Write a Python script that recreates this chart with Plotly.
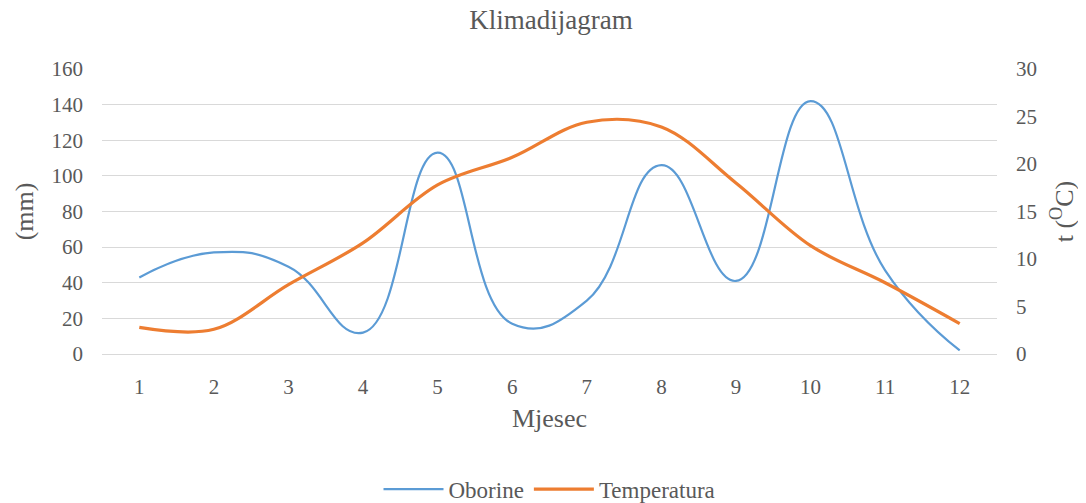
import plotly.graph_objects as go

months = [1, 2, 3, 4, 5, 6, 7, 8, 9, 10, 11, 12]
oborine = [43, 57, 49, 12, 113, 17, 30, 106, 41, 142, 47, 2]
temperatura = [2.8, 2.6, 7.3, 11.7, 17.8, 20.7, 24.4, 23.9, 18.0, 11.4, 7.5, 3.2]

ff = "Liberation Serif"
txt = "#595959"

def F(size):
    return dict(family=ff, size=size, color=txt)

fig = go.Figure()
fig.add_trace(go.Scatter(x=months, y=oborine, name="Oborine", mode="lines",
                         line=dict(color="#5B9BD5", width=2.2, shape="spline", smoothing=1.3)))
fig.add_trace(go.Scatter(x=months, y=temperatura, name="Temperatura", mode="lines", yaxis="y2",
                         line=dict(color="#ED7D31", width=3.2, shape="spline", smoothing=1.0)))

fig.update_layout(
    width=1086, height=503,
    margin=dict(l=94, r=97, t=61, b=157, autoexpand=False),
    paper_bgcolor="white", plot_bgcolor="white",
    font=F(21),
    title=dict(text="Klimadijagram", x=0.5, xanchor="center", y=0.996, yanchor="top",
               font=F(27)),
    xaxis=dict(range=[0.5, 12.5], tickmode="array", tickvals=months,
               ticktext=[str(m) for m in months], showgrid=False, zeroline=False,
               showline=True, linecolor="#D9D9D9", linewidth=1, ticks="",
               tickfont=F(21), ticklabelstandoff=14, automargin=False,
               title=dict(text="Mjesec", font=F(26), standoff=10)),
    yaxis=dict(range=[0, 160], dtick=20, showgrid=True, gridcolor="#D9D9D9", gridwidth=1,
               zeroline=False, showline=False, ticks="", tickfont=F(21), automargin=False,
               ticklabelstandoff=18,
               title=dict(text="(mm)", font=F(26), standoff=10)),
    yaxis2=dict(range=[0, 30], dtick=5, overlaying="y", side="right", showgrid=False,
                zeroline=False, showline=False, ticks="", tickfont=F(21), automargin=False,
                ticklabelstandoff=18,
                title=dict(text="t (<sup>O</sup>C)", font=F(26), standoff=18)),
    legend=dict(orientation="h", x=0.5, xanchor="center", y=-0.474, yanchor="middle",
                font=F(23), itemwidth=60, bgcolor="rgba(0,0,0,0)"),
    showlegend=True,
)

fig.write_html("out.html")
